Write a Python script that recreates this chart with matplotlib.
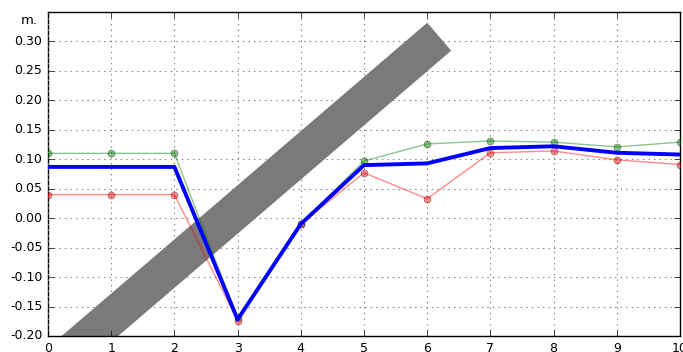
import matplotlib
matplotlib.use('Agg')
import matplotlib.pyplot as plt

plt.style.use('classic')

x = [0, 1, 2, 3, 4, 5, 6, 7, 8, 9, 10]
green = [0.110, 0.110, 0.110, -0.170, -0.010, 0.097, 0.126, 0.131, 0.129, 0.121, 0.129]
red = [0.040, 0.040, 0.040, -0.174, -0.010, 0.077, 0.033, 0.111, 0.114, 0.099, 0.091]
blue = [0.087, 0.087, 0.087, -0.172, -0.010, 0.090, 0.093, 0.119, 0.122, 0.111, 0.108]

# gray band (thick line), end points in data units
band_x = [0.0, 6.19]
band_y = [-0.261, 0.308]

fig = plt.figure(figsize=(6.83, 3.52), dpi=100, facecolor='white')
ax = fig.add_axes([0.0703, 0.0455, 0.9253, 0.9205])

ax.plot(band_x, band_y, color='#7a7a7a', linewidth=26.5, solid_capstyle='butt', zorder=1)
ax.plot(x, green, 'o-', color='g', alpha=0.45, linewidth=1, markersize=5, zorder=3)
ax.plot(x, red, 'o-', color='r', alpha=0.45, linewidth=1, markersize=5, zorder=3)
ax.plot(x, blue, '-', color='b', linewidth=2.8, zorder=4)

ax.set_xlim(0, 10)
ax.set_ylim(-0.2, 0.35)
ax.set_xticks(range(0, 11))
ax.set_yticks([-0.20, -0.15, -0.10, -0.05, 0.0, 0.05, 0.10, 0.15, 0.20, 0.25, 0.30])
ax.yaxis.set_major_formatter(matplotlib.ticker.FormatStrFormatter('%.2f'))
ax.tick_params(labelsize=9)
ax.grid(True, color='gray', linestyle=':', linewidth=0.8)
ax.text(-0.016, 0.975, 'm.', transform=ax.transAxes, ha='right', va='center', fontsize=9.5)

fig.savefig('out.png', dpi=100, facecolor='white')
